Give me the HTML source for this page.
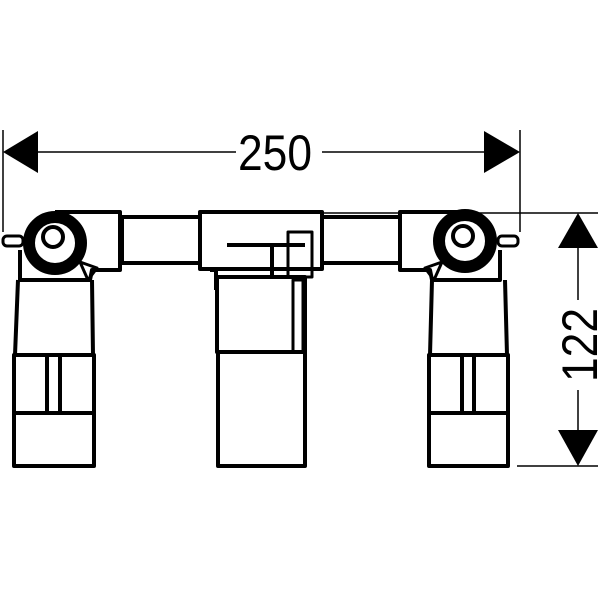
<!DOCTYPE html>
<html><head><style>body{margin:0;background:#fff}svg{display:block}</style></head><body>
<svg width="600" height="600" viewBox="0 0 600 600" xmlns="http://www.w3.org/2000/svg">
<g fill="none" stroke="#000" stroke-linejoin="round">
<line x1="3" y1="130" x2="3" y2="232" stroke-width="1.5"/>
<line x1="520" y1="130" x2="520" y2="232" stroke-width="1.5"/>
<line x1="38" y1="152" x2="236" y2="152" stroke-width="1.5"/>
<line x1="322" y1="152" x2="484" y2="152" stroke-width="1.5"/>
<line x1="322" y1="213" x2="598" y2="213" stroke-width="1.5"/>
<line x1="517" y1="466" x2="598" y2="466" stroke-width="1.5"/>
<line x1="578" y1="248" x2="578" y2="300" stroke-width="1.5"/>
<line x1="578" y1="390" x2="578" y2="430" stroke-width="1.5"/>

<g stroke-width="4">
<rect x="3" y="236" width="20" height="10" rx="4" stroke-width="3"/>
<rect x="498" y="236" width="20" height="10" rx="4" stroke-width="3"/>
<path d="M20 250 L20 280 L90 280 L92 270 L120 270 L120 212 L55 212"/>
<rect x="122" y="217" width="78" height="46"/>
<rect x="200" y="212" width="122" height="57"/>
<rect x="322" y="217" width="78" height="46"/>
<path d="M500 250 L500 280 L432 280 L430 270 L400 270 L400 212 L465 212"/>
<path d="M18 280 L15 355 L93 355 L92 280"/>
<rect x="14" y="355" width="80" height="58"/>
<rect x="14" y="413" width="80" height="53"/>
<path d="M47 357 L47 413 M60 357 L60 413"/>
<path d="M432 280 L430 355 L507 355 L505 280"/>
<rect x="429" y="355" width="79" height="58"/>
<rect x="429" y="413" width="79" height="53"/>
<path d="M462 357 L462 413 M474 357 L474 413"/>
<rect x="217" y="277" width="88" height="75"/>
<rect x="218" y="352" width="87" height="114"/>
<path d="M227 245 L305 245 M272 245 L272 277 M210 270 L216 270 L216 290"/>
<rect x="288" y="232" width="24" height="45" stroke-width="3"/>
<rect x="293" y="280" width="10" height="72" stroke-width="3"/>
</g>
<circle cx="55" cy="243" r="25" fill="#fff" stroke="none"/>
<circle cx="465" cy="241" r="25" fill="#fff" stroke="none"/>
<circle cx="55" cy="243" r="26" stroke-width="12"/>
<circle cx="53" cy="237" r="10" stroke-width="4"/>
<circle cx="465" cy="241" r="26" stroke-width="12"/>
<circle cx="463" cy="236" r="10" stroke-width="4"/>
<path d="M80 262 L97 268 L88 280 Z" stroke-width="3"/>
<path d="M442 262 L425 268 L434 280 Z" stroke-width="3"/>
</g>
<g fill="#000">
<polygon points="3,152 38,131 38,173"/>
<polygon points="520,152 484,131 484,173"/>
<polygon points="578,213 558,248 598,248"/>
<polygon points="578,466 558,430 598,430"/>
</g>
<text x="275" y="170" font-family="Liberation Sans, sans-serif" font-size="50" text-anchor="middle" textLength="74" lengthAdjust="spacingAndGlyphs">250</text>
<text transform="translate(597,345) rotate(-90)" x="0" y="0" font-family="Liberation Sans, sans-serif" font-size="50" text-anchor="middle" textLength="74" lengthAdjust="spacingAndGlyphs">122</text>
</svg>
</body></html>
